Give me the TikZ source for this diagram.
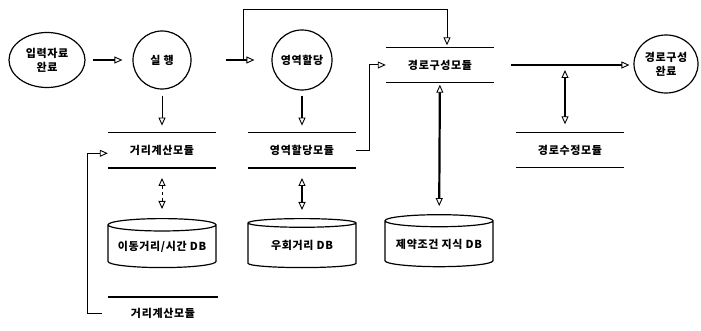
\documentclass[tikz,border=0pt]{standalone}
\usepackage{fontspec}
\newfontfamily\kr{Noto Sans CJK KR}[LetterSpace=6]
\usetikzlibrary{shapes.geometric, arrows.meta, positioning}

\begin{document}
\begin{tikzpicture}[
    x=1pt, y=-1pt,
    lbl/.style={font=\kr\bfseries\fontsize{11}{14}\selectfont, align=center, inner sep=0pt},
    rule/.style={line width=1.5pt},
    topline/.style={append after command={(\tikzlastnode.north west) edge[rule] (\tikzlastnode.north east)}},
    module/.style={lbl, topline, minimum width=108pt, minimum height=35pt,
        append after command={(\tikzlastnode.south west) edge[rule] (\tikzlastnode.south east)}},
    oval/.style={lbl, draw, ellipse, line width=1.2pt},
    disc/.style={lbl, draw, circle, line width=1.2pt, minimum size=58pt},
    store/.style={lbl, draw, cylinder, shape border rotate=90, aspect=0.14,
                  line width=1.2pt, minimum width=108pt, minimum height=49pt},
    tip/.style={-{Triangle[open, length=8pt, width=7pt, line width=0.9pt]}},
    flow/.style={tip, line width=2.6pt},
    link/.style={tip, line width=1pt},
    both/.style={{Triangle[open, length=8pt, width=7pt, line width=0.9pt]}-{Triangle[open, length=8pt, width=7pt, line width=0.9pt]},
                 line width=1.3pt}
]
\useasboundingbox (0,0) rectangle (701,331);

% top row
\node[oval, minimum width=76pt, minimum height=55pt] (start) at (47,60) {입력자료\\완료};
\node[disc]                        (run)   at (162,60) {실 행};
\node[disc, minimum size=60pt]     (part)  at (302,60) {영역할당};
\node[module]                      (build) at (440,65) {경로구성모듈};
\node[oval, minimum width=64pt, minimum height=58pt] (done) at (666,64) {경로구성\\완료};

% modules
\node[module, below=43pt of run]   (dist)  {거리계산모듈};
\node[module, below=42pt of part]  (area)  {영역할당모듈};
\node[module]                      (fix)   at (570,150) {경로수정모듈};
\node[lbl, topline, minimum width=109pt, minimum height=32pt] (dist2) at (163,313) {거리계산모듈};

% databases
\node[store, below=50pt of dist]   (timedb)   {이동거리/시간 DB};
\node[store, below=50pt of area]   (detourdb) {우회거리 DB};
\node[store, minimum height=52pt]  (ruledb)   at (439,244) {제약조건 지식 DB};

\coordinate (split) at (243,60);

\draw[flow, shorten <=7pt, shorten >=10pt] (start) -- (run);
\draw[flow, shorten <=34pt, shorten >=17pt] (run) -- (part);
\draw[link, shorten >=2pt] (split) |- ([xshift=7pt]build.north |- 0,10) -- ([xshift=7pt]build.north);
\draw[link, shorten <=6pt, shorten >=7pt] (run) -- (dist);
\draw[flow, shorten <=5pt, shorten >=7pt] (part) -- (area);
\draw[link] (area.east) -- ++(13pt,0) |- (build.west);
\draw[flow, shorten <=17pt, shorten >=4pt] (build.east) -- (build.east -| done.west);
\draw[both, shorten <=8pt, shorten >=5pt] ([xshift=-5pt]fix.north) -- ([xshift=-5pt]fix.north |- build.east);
\draw[both, line width=2.2pt, shorten <=2pt, shorten >=8pt] (build) -- (ruledb);
\draw[both, dashed, line width=0.9pt, shorten <=10pt, shorten >=9pt] (dist) -- (timedb);
\draw[both, shorten <=10pt, shorten >=8pt] (area) -- (detourdb);
\draw[link, shorten <=6pt] (dist2.west) -- ++(-21pt,0) |- ([yshift=-3pt]dist.west);
\end{tikzpicture}
\end{document}
